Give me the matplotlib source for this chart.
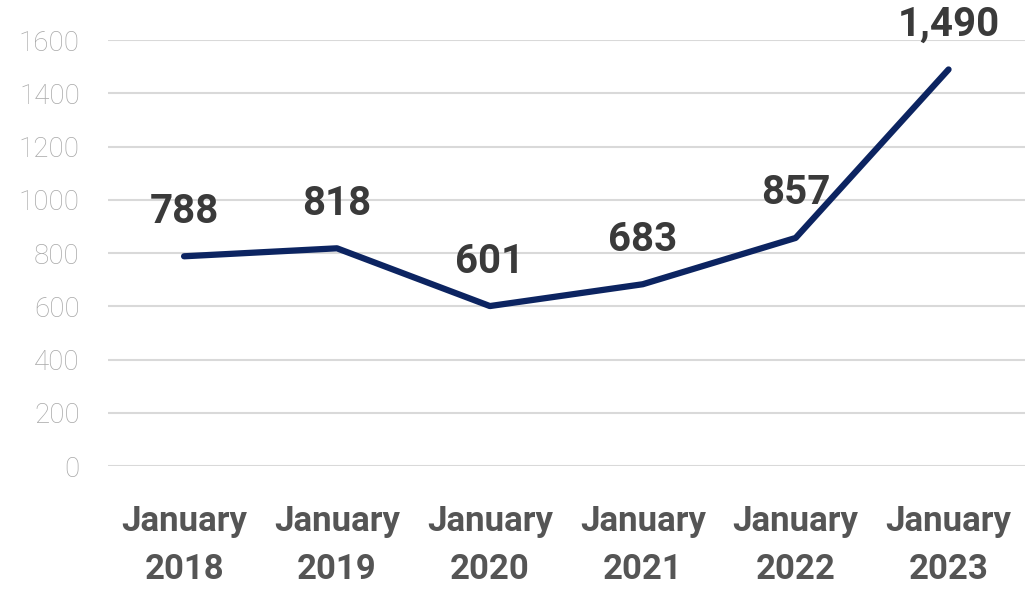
import matplotlib.pyplot as plt

years = ['2018', '2019', '2020', '2021', '2022', '2023']
values = [788, 818, 601, 683, 857, 1490]
value_labels = ['788', '818', '601', '683', '857', '1,490']
tick_labels = ['January\n' + y for y in years]
yticks = [0, 200, 400, 600, 800, 1000, 1200, 1400, 1600]

fig = plt.figure(figsize=(10.25, 5.91), dpi=100)
ax = fig.add_axes([0.105, 0.2115, 0.895, 0.7205])

x = list(range(len(values)))
ax.plot(x, values, color='#0c2461', lw=4.5, solid_capstyle='round', zorder=3)

# data labels above each point
for xi, v, lab in zip(x, values, value_labels):
    ax.annotate(lab, (xi, v), xytext=(0, 32), textcoords='offset points',
                ha='center', va='center', fontsize=29, fontweight='bold',
                family='Roboto', color='#3a3a3a', annotation_clip=False)

ax.set_xlim(-0.5, 5.5)
ax.set_ylim(0, 1600)
ax.set_yticks(yticks)
ax.set_yticklabels([str(t) for t in yticks], family='Roboto', fontweight='light',
                   fontsize=20, color='#a8a8a8')
ax.set_xticks(x)
ax.set_xticklabels(tick_labels, family='Roboto', fontweight='bold', fontsize=25,
                   color='#555555', linespacing=1.57)
ax.tick_params(axis='y', length=0, pad=20)
ax.tick_params(axis='x', length=0, pad=28)
ax.grid(axis='y', color='#d9d9d9', lw=1.5)
ax.set_axisbelow(True)
for s in ax.spines.values():
    s.set_visible(False)

fig.savefig('out.png', dpi=100)
